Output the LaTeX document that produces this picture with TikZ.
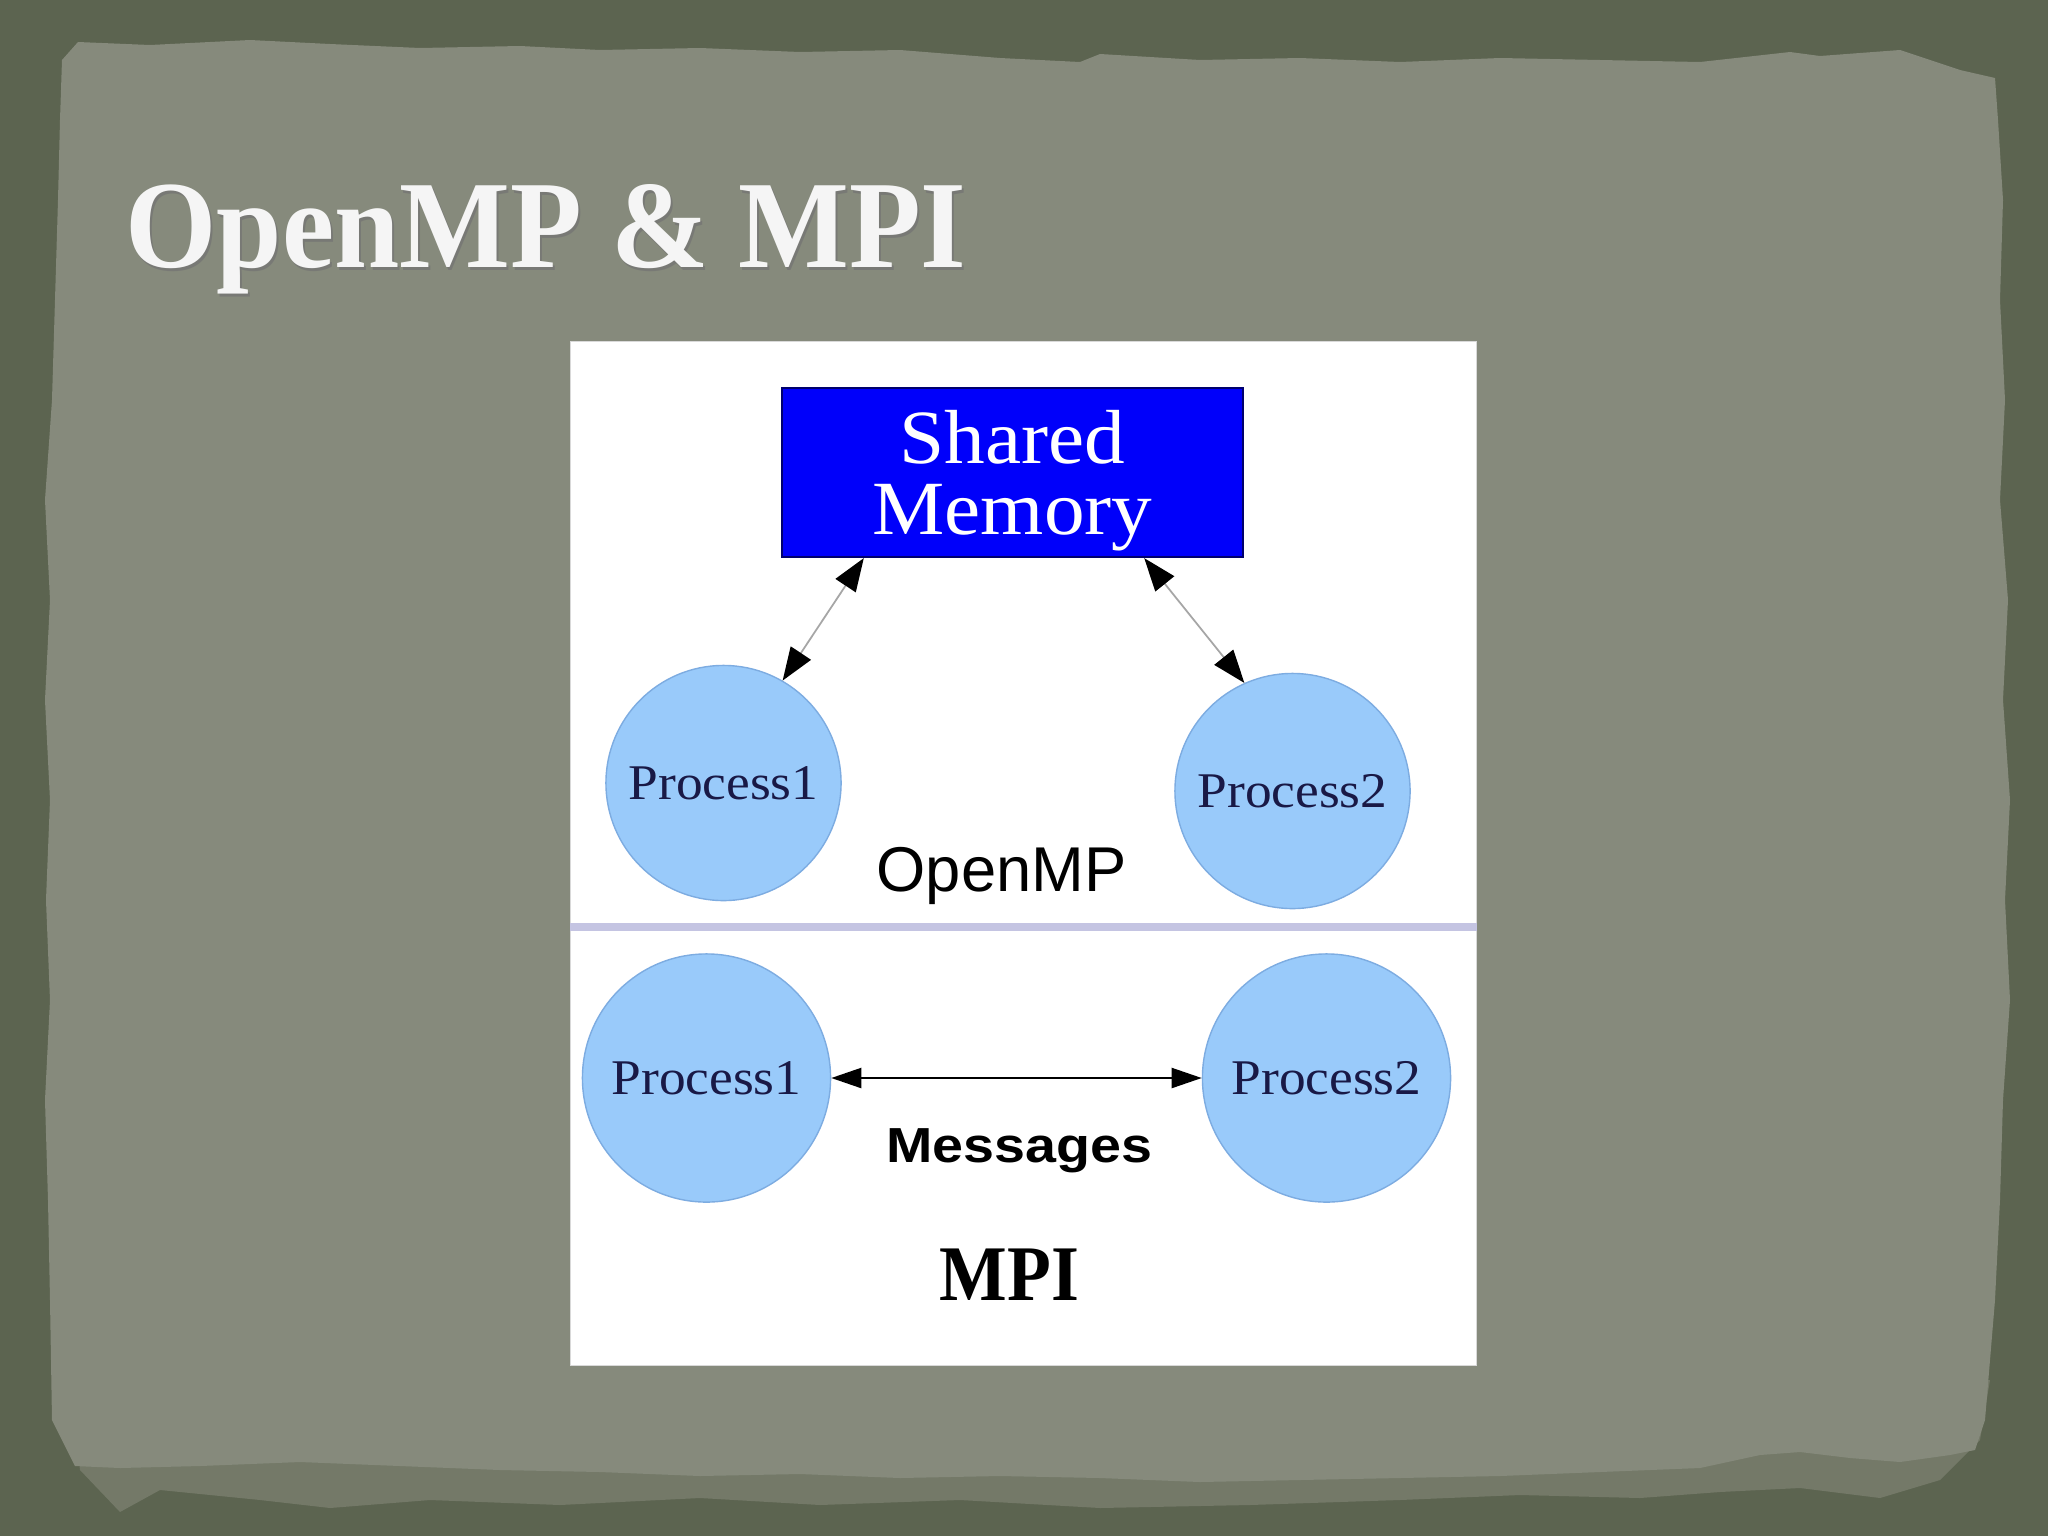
\documentclass[tikz,border=0pt]{standalone}
\usepackage{fontspec}
\usepackage{graphicx}
\setmainfont{Liberation Serif}
\setsansfont{Liberation Sans}
\usetikzlibrary{arrows.meta,calc}
\definecolor{outerbg}{RGB}{92,100,80}
\definecolor{paper}{RGB}{134,138,124}
\definecolor{paperb}{RGB}{116,121,104}
\definecolor{smblue}{RGB}{0,0,250}
\definecolor{smborder}{RGB}{0,0,110}
\definecolor{procfill}{RGB}{153,202,250}
\definecolor{procline}{RGB}{125,172,225}
\definecolor{proctext}{RGB}{25,25,70}
\definecolor{divider}{RGB}{196,196,226}
\begin{document}
\begin{tikzpicture}[x=0.01cm,y=-0.01cm,
  proc/.style={circle,fill=procfill,draw=procline,line width=0.4pt,inner sep=0pt,
    text=proctext,font=\fontsize{14.2}{16}\selectfont},
  smbox/.style={rectangle,fill=smblue,draw=smborder,line width=0.6pt,
    minimum width=4.61cm,minimum height=1.69cm,inner sep=0pt},
  smtext/.style={anchor=base,inner sep=0pt,text=white,font=\fontsize{21.8}{24}\selectfont},
  toparrow/.style={draw=gray!70,line width=0.5pt,
    {Triangle[length=3.3mm,width=2.4mm,color=black]}-{Triangle[length=3.3mm,width=2.4mm,color=black]}},
  msgarrow/.style={draw=black,line width=0.6pt,
    {Triangle[length=3.0mm,width=2.0mm]}-{Triangle[length=3.0mm,width=2.0mm]}},
  titletext/.style={anchor=base west,inner sep=0pt,xscale=0.94,font=\fontsize{35.5}{40}\selectfont\bfseries}
]
\useasboundingbox (0,0) rectangle (2048,1536);
% background
\fill[outerbg] (0,0) rectangle (2048,1536);
% secondary torn layer
\fill[paperb] (70,1380) -- (80,1470) -- (120,1512) -- (160,1490) -- (260,1500) -- (330,1508)
  -- (430,1500) -- (560,1505) -- (700,1498) -- (820,1505) -- (960,1500) -- (1100,1508)
  -- (1250,1505) -- (1400,1500) -- (1520,1495) -- (1640,1498) -- (1720,1492) -- (1800,1488)
  -- (1880,1498) -- (1940,1480) -- (1980,1440) -- (1990,1380) -- cycle;
% main paper
\fill[paper] (62,60) -- (78,42) -- (150,45) -- (250,40) -- (330,44) -- (420,48) -- (520,46)
  -- (600,50) -- (700,48) -- (800,52) -- (900,50) -- (1000,58) -- (1080,62) -- (1100,54)
  -- (1200,60) -- (1300,58) -- (1400,62) -- (1500,58) -- (1600,60) -- (1700,62) -- (1790,52)
  -- (1820,56) -- (1900,50) -- (1930,60) -- (1960,70) -- (1995,78)
  -- (1998,120) -- (2003,200) -- (2000,300) -- (2005,400) -- (2000,500) -- (2008,600)
  -- (2003,700) -- (2010,800) -- (2005,900) -- (2010,1000) -- (2003,1100) -- (2000,1200)
  -- (1995,1300) -- (1990,1360) -- (1985,1420) -- (1975,1450)
  -- (1950,1455) -- (1900,1462) -- (1850,1458) -- (1800,1452) -- (1760,1455) -- (1700,1468)
  -- (1600,1472) -- (1500,1476) -- (1400,1478) -- (1300,1480) -- (1200,1482) -- (1100,1478)
  -- (1000,1476) -- (900,1478) -- (800,1474) -- (700,1476) -- (600,1472) -- (500,1470)
  -- (400,1466) -- (300,1462) -- (200,1466) -- (120,1468) -- (75,1466)
  -- (52,1420) -- (50,1300) -- (48,1200) -- (45,1100) -- (50,1000) -- (46,900) -- (50,800)
  -- (45,700) -- (50,600) -- (45,500) -- (52,400) -- (55,300) -- (58,200) -- (60,120) -- cycle;
% title
\node[titletext,text=black!55,opacity=0.7] (titleshadow) at (127,270) {OpenMP \& MPI};
\node[titletext,text=white!96!black] (title) at (125,267) {OpenMP \& MPI};
% white panel
\node[rectangle,fill=white,draw=gray!30,line width=0.4pt,inner sep=0pt,
  minimum width=9.05cm,minimum height=10.23cm] (panel) at (1023.5,853.5) {};
% divider
\draw[divider,line width=2pt] (panel.west |- 0,927) coordinate (dl) -- (panel.east |- 0,927) coordinate (dr);
% shared memory
\node[smbox] (sm) at (1012.5,472.5) {};
\node[smtext] (sm1) at (1012.5,463) {\scalebox{1.06}[1]{Shared}};
\node[smtext] (sm2) at (1012.5,534) {\scalebox{1.06}[1]{Memory}};
% OpenMP processes
\node[proc,minimum size=2.35cm] (p1) at (723.5,783) {\scalebox{1.07}[1]{Process1}};
\node[proc,minimum size=2.35cm] (p2) at (1292.5,791) {\scalebox{1.07}[1]{Process2}};
\draw[toparrow] ($(sm.south west)+(83,0)$) -- (p1.60);
\draw[toparrow] ($(sm.south east)+(-100,0)$) -- (p2.114);
\node[anchor=base,font=\sffamily\fontsize{18}{20}\selectfont] (omp) at (1001.5,891) {OpenMP};
% MPI processes
\node[proc,minimum size=2.48cm] (p3) at (706.5,1078) {\scalebox{1.07}[1]{Process1}};
\node[proc,minimum size=2.48cm] (p4) at (1326.5,1078) {\scalebox{1.07}[1]{Process2}};
\draw[msgarrow] (p3.east) -- (p4.west);
\node[anchor=base,font=\sffamily\bfseries\fontsize{14}{16}\selectfont] (msg) at (1019.5,1162) {\scalebox{1.13}[1]{Messages}};
\node[anchor=base,font=\bfseries\fontsize{22.4}{24}\selectfont] (mpi) at (1009.5,1300) {\scalebox{0.91}[1]{MPI}};
\end{tikzpicture}
\end{document}
